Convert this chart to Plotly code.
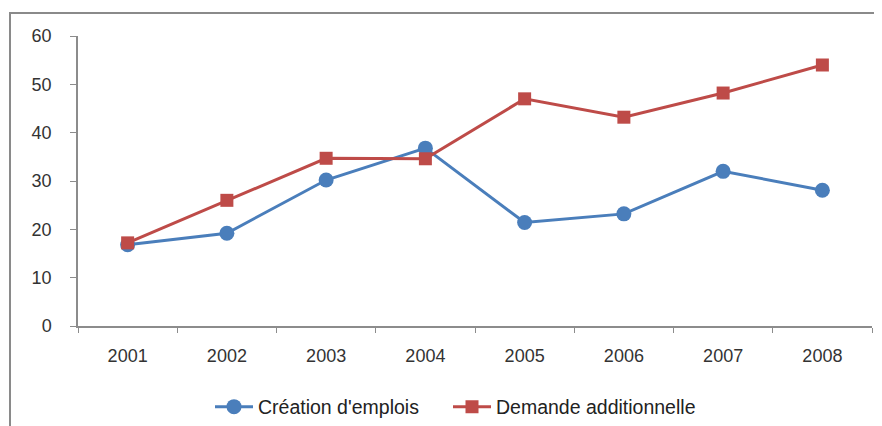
import plotly.graph_objects as go

years = ["2001", "2002", "2003", "2004", "2005", "2006", "2007", "2008"]
creation_emplois = [16.8, 19.2, 30.2, 36.8, 21.4, 23.2, 32.0, 28.1]
demande_add = [17.2, 26.0, 34.7, 34.6, 47.0, 43.2, 48.2, 54.0]
y_ticks = [0, 10, 20, 30, 40, 50, 60]

# page body has an 8px margin, so work in window pixels minus 8
OFF = 8
W, H = 882 - OFF, 426 - OFF
ml, mr, mt, mb = 78 - OFF, 10, 36 - OFF, 100
pw, ph = W - ml - mr, H - mt - mb

def px_x(p):
    return (p - OFF - ml) / pw

def px_y(p):
    return (H - mb - (p - OFF)) / ph

fig = go.Figure()
fig.add_trace(go.Scatter(
    x=years, y=creation_emplois, name="Création d'emplois", mode="lines+markers",
    line=dict(color="#4a7ebb", width=3),
    marker=dict(symbol="circle", size=15, color="#4a7ebb"),
    legend="legend",
))
fig.add_trace(go.Scatter(
    x=years, y=demande_add, name="Demande additionnelle", mode="lines+markers",
    line=dict(color="#be4b48", width=3),
    marker=dict(symbol="square", size=13, color="#be4b48"),
    legend="legend2",
))

leg_common = dict(orientation="h", xref="container", yref="container",
                  xanchor="left", y=(H - (407 - OFF)) / H, yanchor="middle",
                  font=dict(size=19.5, color="#222222"), itemwidth=38,
                  bgcolor="rgba(0,0,0,0)")

fig.update_layout(
    width=W, height=H,
    margin=dict(l=ml, r=mr, t=mt, b=mb),
    paper_bgcolor="white", plot_bgcolor="white",
    font=dict(family="Liberation Sans, Arial, sans-serif", size=18, color="#333333"),
    showlegend=True,
    legend=dict(x=(210 - OFF) / W, **leg_common),
    legend2=dict(x=(448 - OFF) / W, **leg_common),
    xaxis=dict(type="category", range=[-0.5, 7.5], showgrid=False, zeroline=False,
               showline=True, linecolor="#8c8c8c", linewidth=1.5,
               ticks="outside", tickson="boundaries", ticklen=5, tickcolor="#8c8c8c",
               tickfont=dict(size=18, color="#333333"), ticklabelstandoff=13, fixedrange=True),
    yaxis=dict(range=[0, 60], tickvals=y_ticks, showgrid=False, zeroline=False,
               showline=True, linecolor="#8c8c8c", linewidth=1.5,
               ticks="outside", ticklen=6, tickcolor="#8c8c8c",
               tickfont=dict(size=18, color="#333333"), ticklabelstandoff=15, fixedrange=True),
    shapes=[dict(type="rect", xref="paper", yref="paper",
                 x0=px_x(10), x1=px_x(895), y0=px_y(445), y1=px_y(13),
                 line=dict(color="#8a8a8a", width=2), fillcolor="rgba(0,0,0,0)", layer="below")],
)

fig.write_html("out.html")
